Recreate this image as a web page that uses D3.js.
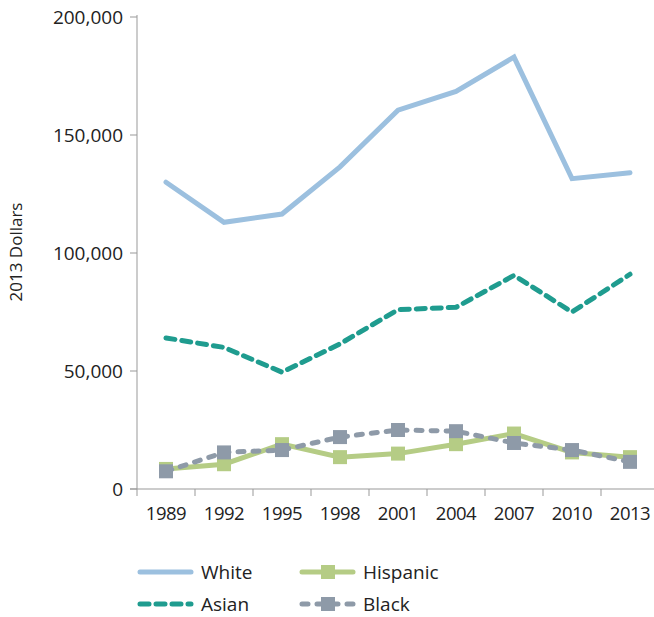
<!DOCTYPE html>
<html><head><meta charset="utf-8">
<script src="https://cdn.jsdelivr.net/npm/d3@7"></script>
<style>body{margin:0;background:#fff}text{font-family:"Open Sans",sans-serif;fill:#222}</style>
</head><body><div id="root"></div>
<script>
const years = ['1989','1992','1995','1998','2001','2004','2007','2010','2013']
const white = [130000,113000,116500,136500,160500,168500,183000,131500,134000]
const asian = [64000,60000,49500,61500,76000,77000,90500,75000,91000]
const hispanic = [8500,10500,19000,13500,15000,19000,23500,15500,13500]
const black = [7500,15500,16500,22000,25000,24500,19500,16500,11500]
const yTicks = [0,50000,100000,150000,200000]

const svg = d3.select('#root').append('svg').attr('width',654).attr('height',617)
const x = d3.scaleBand().domain(years).range([137,659])
const y = d3.scaleLinear().domain([0,200000]).range([489,17])
const cx = d => x(d) + x.bandwidth()/2

// y axis
svg.append('line').attr('x1',137).attr('x2',137).attr('y1',15).attr('y2',489).attr('stroke','#999')
yTicks.forEach(t => {
  svg.append('line').attr('x1',130).attr('x2',137).attr('y1',y(t)).attr('y2',y(t)).attr('stroke','#999')
  svg.append('text').attr('x',123).attr('y',y(t)+7).attr('text-anchor','end').attr('font-size',19).text(d3.format(',')(t))
})
svg.append('text').attr('transform','translate(22,252) rotate(-90)').attr('text-anchor','middle').attr('font-size',17).text('2013 Dollars')
// x axis
svg.append('line').attr('x1',130).attr('x2',654).attr('y1',489).attr('y2',489).attr('stroke','#999')
years.forEach(yr => {
  svg.append('line').attr('x1',x(yr)).attr('x2',x(yr)).attr('y1',489).attr('y2',496).attr('stroke','#999')
  svg.append('text').attr('x',cx(yr)).attr('y',520).attr('text-anchor','middle').attr('font-size',18.5).attr('letter-spacing',-0.5).text(yr)
})

const line = d3.line().x((d,i) => cx(years[i])).y(d => y(d))
const series = [
  {name:'White', data:white, color:'#9cc0df', dash:null, marker:false},
  {name:'Asian', data:asian, color:'#1f9c8f', dash:'9,7', marker:false},
  {name:'Hispanic', data:hispanic, color:'#b5cc85', dash:null, marker:true},
  {name:'Black', data:black, color:'#8e9aa8', dash:'6,9', marker:true}
]
series.forEach(s => {
  svg.append('path').attr('d',line(s.data)).attr('fill','none').attr('stroke',s.color)
    .attr('stroke-width',5).attr('stroke-linecap','round').attr('stroke-dasharray',s.dash)
  if (s.marker) svg.selectAll(null).data(s.data).join('rect')
    .attr('x',(d,i) => cx(years[i])-7).attr('y',d => y(d)-7).attr('width',14).attr('height',14).attr('fill',s.color)
})
// legend
const leg = [[138,572],[138,604],[300,572],[300,604]]
series.forEach((s,j) => {
  const [lx,ly] = leg[j]
  svg.append('line').attr('x1',lx+2).attr('x2',lx+53).attr('y1',ly).attr('y2',ly).attr('stroke',s.color)
    .attr('stroke-width',5).attr('stroke-linecap','round').attr('stroke-dasharray',s.dash)
  if (s.marker) svg.append('rect').attr('x',lx+21).attr('y',ly-7).attr('width',14).attr('height',14).attr('fill',s.color)
  svg.append('text').attr('x',lx+63).attr('y',ly+7).attr('font-size',19).text(s.name)
})
</script></body></html>
